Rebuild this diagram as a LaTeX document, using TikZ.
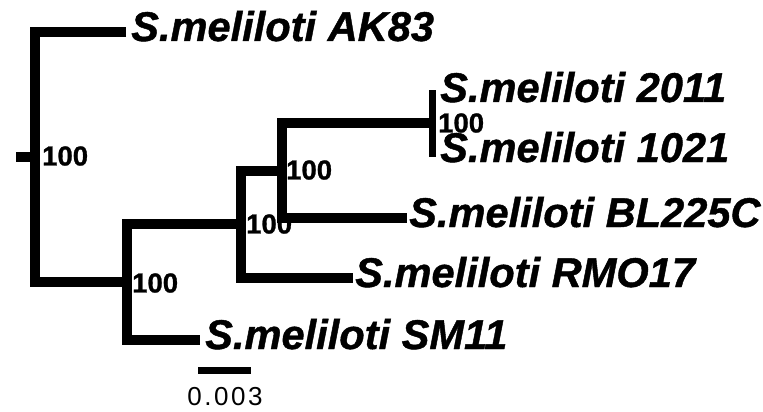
\documentclass[tikz,border=0pt]{standalone}
\usepackage{fontspec}
\setmainfont{Liberation Sans}
\begin{document}
\begin{tikzpicture}[x=1pt,y=-1pt,
  br/.style={line width=10pt, line join=miter, line cap=butt},
  tipbar/.style={line width=7pt, line cap=rect},
  leaf/.style={anchor=base west, inner sep=0pt, font=\fontsize{41.6}{41.6}\selectfont\bfseries\itshape\addfontfeature{FakeBold=1}},
  supp/.style={anchor=west, inner sep=0pt, font=\fontsize{27.5}{27.5}\selectfont\bfseries\addfontfeature{FakeBold=1}},
  scalelab/.style={inner sep=0pt, font=\fontsize{26}{26}\selectfont\addfontfeature{LetterSpace=10}}]
\useasboundingbox (0,0) rectangle (763,412);
% internal nodes
\coordinate (stub) at (16,157);
\coordinate (n1) at (35,157);
\coordinate (n2) at (127,282);
\coordinate (n3) at (241,224);
\coordinate (n4) at (282,170.5);
\coordinate (n5) at (432,123);
% leaf tips
\coordinate (tAK) at (126,32);
\coordinate (t2011) at (432,93);
\coordinate (t1021) at (432,153);
\coordinate (tBL) at (407,218);
\coordinate (tRMO) at (353,278);
\coordinate (tSM) at (200,340);
% branches
\draw[br] (n1) -- (stub);
\draw[br] (tAK) -| (n1) |- (n2);
\draw[br] (n3) -| (n2) |- (tSM);
\draw[br] (n4) -| (n3) |- (tRMO);
\draw[br] (n5) -| (n4) |- (tBL);
\draw[tipbar] (t2011) -- (t1021);
% leaf labels
\node[leaf] (lAK) at (131,41) {S.meliloti AK83};
\node[leaf] (l2011) at (440,102) {S.meliloti 2011};
\node[leaf] (l1021) at (440,162) {S.meliloti 1021};
\node[leaf] (lBL) at (409,227) {S.meliloti BL225C};
\node[leaf] (lRMO) at (355,287) {S.meliloti RMO17};
\node[leaf] (lSM) at (205,349) {S.meliloti SM11};
% support values
\node[supp] (s1) at (42,156) {100};
\node[supp] (s2) at (132,283) {100};
\node[supp] (s3) at (246,224) {100};
\node[supp] (s4) at (286,170) {100};
\node[supp] (s5) at (438,123) {100};
% scale bar
\coordinate (sb1) at (198,370);
\coordinate (sb2) at (251,370);
\draw[line width=7pt] (sb1) -- (sb2);
\node[scalelab] (sbl) at (225,397) {0.003};
\end{tikzpicture}
\end{document}
